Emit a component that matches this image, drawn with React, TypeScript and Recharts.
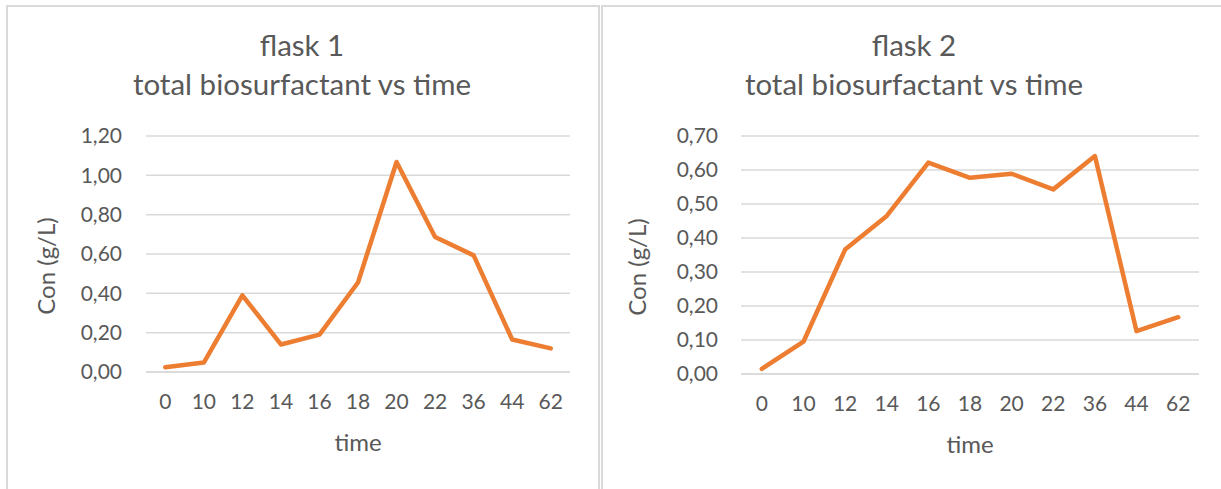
import { LineChart, Line, XAxis, YAxis, CartesianGrid } from "recharts";

const times = ["0", "10", "12", "14", "16", "18", "20", "22", "36", "44", "62"];
const flask1 = [0.024, 0.048, 0.39, 0.14, 0.19, 0.455, 1.068, 0.686, 0.593, 0.165, 0.12];
const flask2 = [0.015, 0.095, 0.366, 0.465, 0.622, 0.577, 0.589, 0.543, 0.641, 0.126, 0.167];
const flask1Ticks = [0, 0.2, 0.4, 0.6, 0.8, 1.0, 1.2];
const flask2Ticks = [0, 0.1, 0.2, 0.3, 0.4, 0.5, 0.6, 0.7];

const FONT = "Lato, 'Open Sans', sans-serif";
const GRAY = "#595959";
const ORANGE = "#ED7D31";

const fmt = (v: number) => v.toFixed(2).replace(".", ",");

type PanelProps = {
  left: number;
  width: number;
  title: string;
  values: number[];
  ticks: number[];
  plotLeft: number;
  plotRight: number;
  plotBottom: number;
  tickRight: number;
  yTitleX: number;
};

function Panel({ left, width, title, values, ticks, plotLeft, plotRight, plotBottom, tickRight, yTitleX }: PanelProps) {
  const data = times.map((t, i) => ({ time: t, v: values[i] }));
  const height = 489;
  const xAxisH = 60;
  const titleCenter = (plotLeft + plotRight) / 2 - 56;
  // half a category band on each side, like Excel's "between tick marks"
  const halfBand = (plotRight - plotLeft) / times.length / 2;
  return (
    <div style={{ position: "absolute", left, top: 0, width, height }}>
      <div
        style={{
          position: "absolute",
          left: 0,
          width: "100%",
          top: 25,
          textAlign: "center",
          fontFamily: FONT,
          fontSize: 29.5,
          lineHeight: "39px",
          color: GRAY,
          transform: `translateX(${titleCenter - width / 2}px)`,
        }}
      >
        <div>{title}</div>
        <div>total biosurfactant vs time</div>
      </div>
      <LineChart
        width={width}
        height={height}
        data={data}
        margin={{ top: 136, right: width - plotRight, left: 0, bottom: height - plotBottom - xAxisH }}
        style={{ position: "absolute", left: 0, top: 0 }}
      >
        <CartesianGrid vertical={false} stroke="#d9d9d9" strokeWidth={1.5} />
        <XAxis
          dataKey="time"
          height={xAxisH}
          padding={{ left: halfBand, right: halfBand }}
          axisLine={{ stroke: "#d9d9d9", strokeWidth: 1.5 }}
          tickLine={false}
          tickMargin={16}
          tick={{ fill: GRAY, fontSize: 21, fontFamily: FONT }}
          interval={0}
          label={{
            content: (p: any) => {
              const vb = p.viewBox || { x: 0, y: 0, width: 0, height: 0 };
              return (
                <text
                  x={vb.x + vb.width / 2}
                  y={vb.y + 79}
                  textAnchor="middle"
                  fill={GRAY}
                  fontSize={24}
                  fontFamily={FONT}
                >
                  time
                </text>
              );
            },
          }}
        />
        <YAxis
          width={plotLeft}
          domain={[0, ticks[ticks.length - 1]]}
          ticks={ticks}
          tickFormatter={fmt}
          axisLine={false}
          tickLine={false}
          tickMargin={plotLeft - tickRight - 6}
          tick={{ fill: GRAY, fontSize: 21, fontFamily: FONT }}
          label={{
            content: (p: any) => {
              const vb = p.viewBox || { x: 0, y: 0, width: 0, height: 0 };
              const cx = yTitleX;
              const cy = vb.y + vb.height / 2 + 12;
              return (
                <text
                  x={cx}
                  y={cy}
                  transform={`rotate(-90 ${cx} ${cy})`}
                  textAnchor="middle"
                  dominantBaseline="central"
                  fill={GRAY}
                  fontSize={24}
                  fontFamily={FONT}
                >
                  Con (g/L)
                </text>
              );
            },
          }}
        />
        <Line
          dataKey="v"
          type="linear"
          stroke={ORANGE}
          strokeWidth={4.5}
          strokeLinecap="round"
          strokeLinejoin="round"
          dot={false}
          activeDot={false}
          isAnimationActive={false}
        />
      </LineChart>
    </div>
  );
}

export default function App() {
  return (
    <div
      style={{
        position: "absolute",
        left: 0,
        top: 0,
        width: 1221,
        height: 489,
        overflow: "hidden",
        background: "#fff",
      }}
    >
      <div
        style={{
          position: "absolute",
          left: 6,
          top: 5,
          width: 590,
          height: 500,
          borderLeft: "2px solid #d9d9d9",
          borderTop: "2px solid #d9d9d9",
          borderRight: "2px solid #d9d9d9",
        }}
      />
      <div
        style={{
          position: "absolute",
          left: 601,
          top: 5,
          width: 640,
          height: 500,
          borderLeft: "2px solid #d9d9d9",
          borderTop: "2px solid #d9d9d9",
        }}
      />
      <Panel
        left={0}
        width={600}
        title="flask 1"
        values={flask1}
        ticks={flask1Ticks}
        plotLeft={146}
        plotRight={570}
        plotBottom={372}
        tickRight={122}
        yTitleX={45}
      />
      <Panel
        left={600}
        width={621}
        title="flask 2"
        values={flask2}
        ticks={flask2Ticks}
        plotLeft={141}
        plotRight={599}
        plotBottom={374}
        tickRight={118}
        yTitleX={36}
      />
    </div>
  );
}
